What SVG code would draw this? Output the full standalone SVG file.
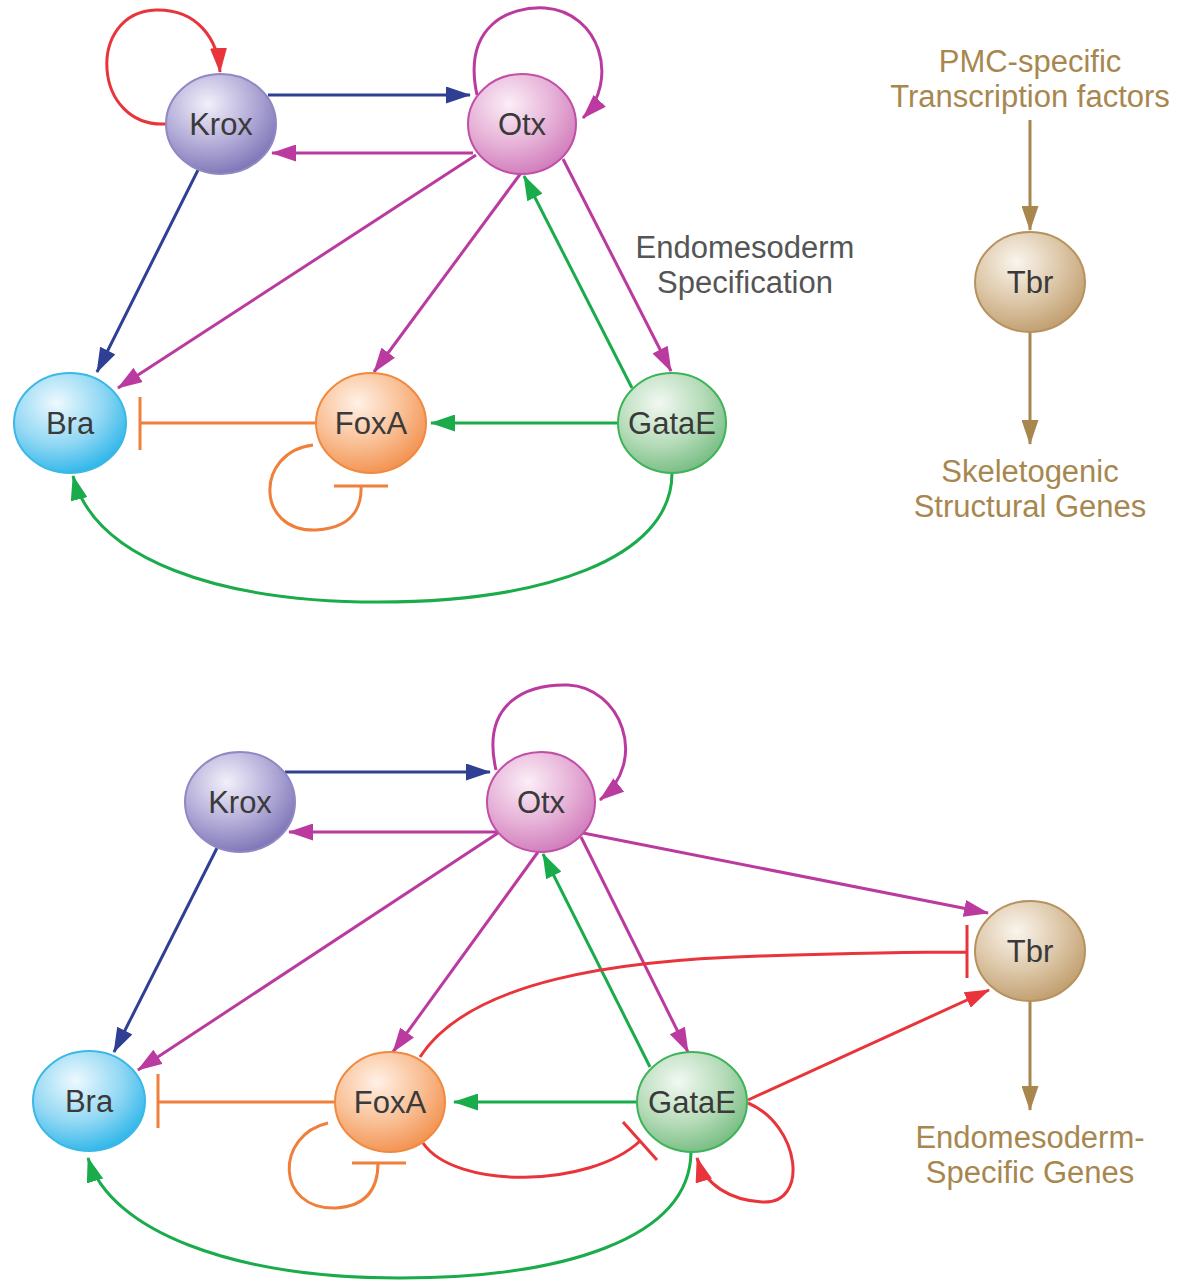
<svg xmlns="http://www.w3.org/2000/svg" width="1196" height="1282" viewBox="0 0 1196 1282">
<defs>
<style>
.e{fill:none;stroke-width:3}
.r{stroke:#e8343a}.b{stroke:#2e3f94}.m{stroke:#bb3a9f}.g{stroke:#1aab4b}.o{stroke:#f07f3c}.n{stroke:#a8874f}
.lab{font-family:"Liberation Sans",Arial,sans-serif;font-size:31px;fill:#3a3a3a;text-anchor:middle}
.cap{font-family:"Liberation Sans",Arial,sans-serif;font-size:31px;text-anchor:middle}
.gray{fill:#555}.brown{fill:#a8874f}
</style>
<marker id="aR" viewBox="0 0 25 17" refX="24" refY="8.5" markerWidth="25" markerHeight="17" markerUnits="userSpaceOnUse" orient="auto"><path d="M0,0L25,8.5L0,17z" fill="#e8343a"/></marker>
<marker id="aB" viewBox="0 0 25 17" refX="24" refY="8.5" markerWidth="25" markerHeight="17" markerUnits="userSpaceOnUse" orient="auto"><path d="M0,0L25,8.5L0,17z" fill="#2e3f94"/></marker>
<marker id="aM" viewBox="0 0 25 17" refX="24" refY="8.5" markerWidth="25" markerHeight="17" markerUnits="userSpaceOnUse" orient="auto"><path d="M0,0L25,8.5L0,17z" fill="#bb3a9f"/></marker>
<marker id="aG" viewBox="0 0 25 17" refX="24" refY="8.5" markerWidth="25" markerHeight="17" markerUnits="userSpaceOnUse" orient="auto"><path d="M0,0L25,8.5L0,17z" fill="#1aab4b"/></marker>
<marker id="aN" viewBox="0 0 25 17" refX="24" refY="8.5" markerWidth="25" markerHeight="17" markerUnits="userSpaceOnUse" orient="auto"><path d="M0,0L25,8.5L0,17z" fill="#a8874f"/></marker>
<radialGradient id="gKrox" cx="0.38" cy="0.3" r="0.75"><stop offset="0" stop-color="#f2f0fa"/><stop offset="0.55" stop-color="#b3acd8"/><stop offset="1" stop-color="#7a72b4"/></radialGradient>
<radialGradient id="gOtx" cx="0.38" cy="0.3" r="0.75"><stop offset="0" stop-color="#fbeef7"/><stop offset="0.55" stop-color="#e6b1d7"/><stop offset="1" stop-color="#cf79b9"/></radialGradient>
<radialGradient id="gBra" cx="0.38" cy="0.3" r="0.75"><stop offset="0" stop-color="#eef9fe"/><stop offset="0.55" stop-color="#92d8f4"/><stop offset="1" stop-color="#28b4e8"/></radialGradient>
<radialGradient id="gFox" cx="0.38" cy="0.3" r="0.75"><stop offset="0" stop-color="#fff1e6"/><stop offset="0.55" stop-color="#f9bf94"/><stop offset="1" stop-color="#f28f4c"/></radialGradient>
<radialGradient id="gGata" cx="0.38" cy="0.3" r="0.75"><stop offset="0" stop-color="#f2f8f2"/><stop offset="0.55" stop-color="#b6dcb9"/><stop offset="1" stop-color="#74bb80"/></radialGradient>
<radialGradient id="gTbr" cx="0.38" cy="0.3" r="0.75"><stop offset="0" stop-color="#faf5ee"/><stop offset="0.55" stop-color="#dcc6a6"/><stop offset="1" stop-color="#bf9c6c"/></radialGradient>
</defs>
<rect width="1196" height="1282" fill="#fff"/>

<g id="connectors">
<!-- top -->
<path class="e r" d="M166,124 C92,128 86,12 156,10 C198,9 218,40 220,72" marker-end="url(#aR)"/>
<path class="e b" d="M268,95 L470,95" marker-end="url(#aB)"/>
<path class="e m" d="M473,153 L272,153" marker-end="url(#aM)"/>
<path class="e m" d="M477,95 C462,25 510,6 545,8 C600,12 620,80 583,118" marker-end="url(#aM)"/>
<path class="e b" d="M198,170 L97,372" marker-end="url(#aB)"/>
<path class="e m" d="M476,155 L118,388" marker-end="url(#aM)"/>
<path class="e m" d="M521,173 L374,372" marker-end="url(#aM)"/>
<path class="e g" d="M632,388 L524,176" marker-end="url(#aG)"/>
<path class="e m" d="M563,159 L671,371" marker-end="url(#aM)"/>
<path class="e o" d="M316,423 L140,423 M140,397 L140,450"/>
<path class="e g" d="M617,423 L431,423" marker-end="url(#aG)"/>
<path class="e o" d="M313,445 C255,452 255,532 316,530 C350,528 362,510 361,486 M334,486 L388,486"/>
<path class="e g" d="M672,473 C672,560 540,602 378,602 C220,602 95,560 73,476" marker-end="url(#aG)"/>
<path class="e n" d="M1030,120 L1030,230" marker-end="url(#aN)"/>
<path class="e n" d="M1030,332 L1030,444" marker-end="url(#aN)"/>
<!-- bottom -->
<path class="e b" d="M285,772 L490,772" marker-end="url(#aB)"/>
<path class="e m" d="M497,832 L289,832" marker-end="url(#aM)"/>
<path class="e m" d="M496,770 C480,700 530,684 568,685 C620,687 650,760 600,800" marker-end="url(#aM)"/>
<path class="e b" d="M217,848 L114,1052" marker-end="url(#aB)"/>
<path class="e m" d="M498,833 L138,1070" marker-end="url(#aM)"/>
<path class="e m" d="M538,852 L393,1052" marker-end="url(#aM)"/>
<path class="e g" d="M650,1067 L543,854" marker-end="url(#aG)"/>
<path class="e m" d="M581,837 L688,1052" marker-end="url(#aM)"/>
<path class="e m" d="M583,833 L988,913" marker-end="url(#aM)"/>
<path class="e r" d="M420,1057 C470,980 620,960 760,956 C860,953 920,952 966,952 M967,925 L967,978"/>
<path class="e r" d="M748,1100 L989,990" marker-end="url(#aR)"/>
<path class="e r" d="M423,1143 C455,1190 590,1188 640,1141 M623,1122 L657,1160"/>
<path class="e r" d="M748,1103 C800,1125 810,1205 762,1202 C730,1200 705,1185 697,1158" marker-end="url(#aR)"/>
<path class="e o" d="M336,1102 L158,1102 M158,1074 L158,1128"/>
<path class="e g" d="M637,1102 L454,1102" marker-end="url(#aG)"/>
<path class="e o" d="M328,1123 C275,1135 275,1210 336,1208 C370,1206 378,1185 378,1163 M352,1163 L406,1163"/>
<path class="e g" d="M691,1152 C690,1240 560,1278 400,1278 C230,1278 110,1230 88,1158" marker-end="url(#aG)"/>
<path class="e n" d="M1030,1001 L1030,1110" marker-end="url(#aN)"/>
</g>

<g id="krox1"><ellipse cx="221" cy="124" rx="55" ry="50" fill="url(#gKrox)" stroke="#9088c4" stroke-width="2"/><text class="lab" x="221" y="135">Krox</text></g>
<g id="otx1"><ellipse cx="522" cy="124" rx="54" ry="50" fill="url(#gOtx)" stroke="#c24fa7" stroke-width="2"/><text class="lab" x="522" y="135">Otx</text></g>
<g id="bra1"><ellipse cx="70" cy="423" rx="56" ry="50" fill="url(#gBra)" stroke="#3bb8e6" stroke-width="2"/><text class="lab" x="70" y="434">Bra</text></g>
<g id="foxa1"><ellipse cx="371" cy="423" rx="55" ry="50" fill="url(#gFox)" stroke="#f08a40" stroke-width="2"/><text class="lab" x="371" y="434">FoxA</text></g>
<g id="gatae1"><ellipse cx="672" cy="423" rx="54" ry="50" fill="url(#gGata)" stroke="#3db35a" stroke-width="2"/><text class="lab" x="672" y="434">GataE</text></g>
<g id="tbr1"><ellipse cx="1030" cy="282" rx="55" ry="50" fill="url(#gTbr)" stroke="#b8925e" stroke-width="2"/><text class="lab" x="1030" y="293">Tbr</text></g>

<g id="krox2"><ellipse cx="240" cy="802" rx="55" ry="50" fill="url(#gKrox)" stroke="#9088c4" stroke-width="2"/><text class="lab" x="240" y="813">Krox</text></g>
<g id="otx2"><ellipse cx="541" cy="802" rx="54" ry="50" fill="url(#gOtx)" stroke="#c24fa7" stroke-width="2"/><text class="lab" x="541" y="813">Otx</text></g>
<g id="bra2"><ellipse cx="89" cy="1101" rx="56" ry="50" fill="url(#gBra)" stroke="#3bb8e6" stroke-width="2"/><text class="lab" x="89" y="1112">Bra</text></g>
<g id="foxa2"><ellipse cx="390" cy="1102" rx="55" ry="50" fill="url(#gFox)" stroke="#f08a40" stroke-width="2"/><text class="lab" x="390" y="1113">FoxA</text></g>
<g id="gatae2"><ellipse cx="692" cy="1102" rx="55" ry="50" fill="url(#gGata)" stroke="#3db35a" stroke-width="2"/><text class="lab" x="692" y="1113">GataE</text></g>
<g id="tbr2"><ellipse cx="1030" cy="951" rx="55" ry="50" fill="url(#gTbr)" stroke="#b8925e" stroke-width="2"/><text class="lab" x="1030" y="962">Tbr</text></g>

<g id="labels">
<text class="cap gray" x="745" y="258">Endomesoderm</text>
<text class="cap gray" x="745" y="293">Specification</text>
<text class="cap brown" x="1030" y="72">PMC-specific</text>
<text class="cap brown" x="1030" y="107">Transcription factors</text>
<text class="cap brown" x="1030" y="482">Skeletogenic</text>
<text class="cap brown" x="1030" y="517">Structural Genes</text>
<text class="cap brown" x="1030" y="1148">Endomesoderm-</text>
<text class="cap brown" x="1030" y="1183">Specific Genes</text>
</g>
</svg>
